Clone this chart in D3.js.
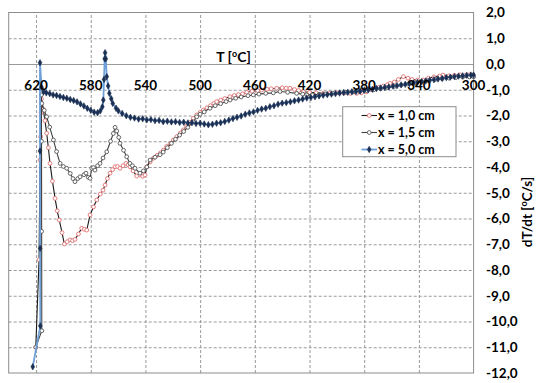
<!DOCTYPE html>
<html>
<head>
<meta charset="utf-8">
<script src="https://cdn.jsdelivr.net/npm/d3@7"></script>
<style>
  html, body { margin: 0; padding: 0; background: #fff; }
  svg { display: block; }
  text { font-family: Lato, "Open Sans", sans-serif; font-weight: bold; fill: #000; }
</style>
</head>
<body>
<svg id="chart" width="546" height="383"></svg>
<script>
// ---------------- data ----------------
const tempTicks = [620, 580, 540, 500, 460, 420, 380, 340, 300];
const rateTicks = [2, 1, 0, -1, -2, -3, -4, -5, -6, -7, -8, -9, -10, -11, -12];
const seriesNames = ["x = 1,0 cm", "x = 1,5 cm", "x = 5,0 cm"];

// x = 1,0 cm
const temp1 = [620.2,617.8,617.1,616.6,616.3,616.0,614.7,613.5,612.2,611.0,609.8,608.0,606.1,604.5,603.0,601.0,599.3,597.2,595.1,593.3,591.5,589.0,586.6,584.7,582.9,580.5,578.0,575.6,573.0,571.0,569.5,567.8,565.9,564.0,562.2,560.4,558.6,556.4,554.2,552.7,551.3,549.0,546.4,544.0,542.0,540.3,539.0,536.5,534.2,531.5,529.0,526.9,524.5,522.0,519.6,517.0,514.5,512.3,510.0,507.5,505.0,502.5,500.0,497.7,495.0,492.5,490.0,487.9,485,482,478.2,475,472,469,465.9,462,458,455,451,448,444,440,437,434.3,431,428,424.5,420,415,410,405,400,395,390,385.5,382,378.2,375,372,369,366,363,361.1,358,355,351.4,348,345,341,337,333,329,325,322.4,318,314,310,306,303,300.4];
const rate1 = [-11.0,-7.6,-3.73,-2.82,-1.9,-1.35,-1.76,-2.2,-2.69,-3.25,-3.86,-4.55,-5.22,-5.70,-6.06,-6.55,-6.99,-6.90,-6.83,-6.86,-6.81,-6.60,-6.38,-6.42,-6.45,-5.86,-5.55,-5.28,-5.05,-4.90,-4.70,-4.45,-4.24,-4.10,-3.99,-3.98,-4.05,-3.95,-3.86,-3.92,-3.99,-4.15,-4.35,-4.31,-4.36,-4.31,-3.99,-3.80,-3.66,-3.55,-3.45,-3.34,-3.20,-3.09,-2.95,-2.82,-2.68,-2.56,-2.42,-2.27,-2.11,-1.98,-1.88,-1.79,-1.70,-1.62,-1.53,-1.46,-1.40,-1.34,-1.27,-1.22,-1.19,-1.16,-1.10,-1.06,-1.03,-1.01,-0.98,-0.96,-0.94,-0.92,-0.94,-0.94,-0.99,-1.03,-1.08,-1.10,-1.12,-1.14,-1.13,-1.12,-1.13,-1.14,-1.14,-1.12,-1.08,-1.00,-0.94,-0.90,-0.86,-0.80,-0.75,-0.70,-0.60,-0.49,-0.55,-0.60,-0.62,-0.62,-0.55,-0.50,-0.47,-0.43,-0.46,-0.44,-0.42,-0.44,-0.42,-0.43];

// x = 1,5 cm
const temp2 = [620.2,615.8,615.9,616.0,616.1,615.8,614.0,612.2,610.0,607.3,605.0,602.4,600.0,597.6,595.0,593.0,591.5,589.5,587.8,585.0,583.5,581.8,580.5,579.3,578.0,576.9,575.0,573.2,571.0,568.3,565.5,563.5,562.2,561.0,559.5,558.6,556.0,553.7,551.3,549.5,547.6,544.0,541.5,539.0,536.6,533.0,529.3,527,524,521,518,515,512,509,505,502.5,500,497,492.8,489,485,481,478.1,474,470,465,461.1,457,452,446.5,441.6,436,429.4,425,422,418,413,408,403,398,393,388,383,378,373,368,363,358,353,348,343,338,333,328,323,318,313,308,303,300];
const rate2 = [-11.0,-10.36,-6.5,-3.0,-1.2,-1.53,-1.80,-2.05,-2.45,-2.95,-3.40,-3.86,-3.98,-4.05,-4.25,-4.45,-4.57,-4.45,-4.38,-4.30,-4.24,-4.40,-4.44,-4.05,-4.02,-4.12,-3.95,-3.86,-3.65,-3.41,-3.00,-2.70,-2.46,-2.60,-2.85,-3.08,-3.35,-3.60,-3.86,-3.95,-4.05,-4.24,-4.15,-4.00,-3.73,-3.62,-3.52,-3.42,-3.25,-3.08,-2.92,-2.76,-2.62,-2.46,-2.25,-2.05,-1.95,-1.86,-1.72,-1.62,-1.54,-1.46,-1.40,-1.33,-1.28,-1.23,-1.20,-1.17,-1.14,-1.12,-1.07,-1.10,-1.14,-1.17,-1.20,-1.20,-1.18,-1.16,-1.14,-1.12,-1.10,-1.08,-1.06,-1.03,-1.00,-0.96,-0.92,-0.87,-0.82,-0.78,-0.73,-0.68,-0.64,-0.60,-0.57,-0.55,-0.53,-0.51,-0.50,-0.50];

// x = 5,0 cm
const temp3 = [622.4,616.9,617.0,617.1,617.1,616.0,614.5,612.5,610.0,607.5,605.0,602.5,600.0,597.5,595.0,592.5,590.0,587.5,585.0,582.5,580.0,577.5,575.0,573.0,571.5,570.8,570.3,569.8,569.5,569.0,568.3,567.3,566.4,565.0,563.9,561.5,559.8,557,554,551,548,545,542,539,536,533,530,527,524,521,518,515,512,509,506,503,500,497,494,491,488,485,482,479,476,473,470,467,464,461,458,455,452,449,446,443,440,437,434,431,428,425,422,419,416,413,410,407,404,401,398,395,392,389,386,383,380,377,374,371,368,365,362,359,356,353,350,347,344,341,338,335,332,329,326,323,320,317,314,311,308,305,302,300];
const rate3 = [-11.76,-10.17,-7.16,-3.38,0.05,-0.90,-1.08,-1.12,-1.15,-1.20,-1.22,-1.26,-1.30,-1.33,-1.38,-1.42,-1.47,-1.55,-1.63,-1.72,-1.80,-1.87,-1.89,-1.82,-1.66,-1.40,-0.60,0.20,0.44,0.20,-0.49,-0.85,-1.14,-1.35,-1.53,-1.72,-1.82,-1.92,-2.01,-2.07,-2.10,-2.14,-2.13,-2.17,-2.16,-2.20,-2.19,-2.24,-2.22,-2.25,-2.24,-2.27,-2.26,-2.29,-2.28,-2.31,-2.30,-2.33,-2.36,-2.34,-2.30,-2.28,-2.23,-2.18,-2.12,-2.07,-2.02,-1.95,-1.90,-1.86,-1.80,-1.75,-1.72,-1.66,-1.62,-1.56,-1.52,-1.50,-1.47,-1.43,-1.40,-1.36,-1.32,-1.30,-1.27,-1.24,-1.21,-1.19,-1.17,-1.15,-1.13,-1.11,-1.10,-1.08,-1.07,-1.05,-1.02,-1.00,-0.98,-0.95,-0.93,-0.91,-0.89,-0.86,-0.84,-0.81,-0.79,-0.76,-0.74,-0.71,-0.69,-0.66,-0.63,-0.61,-0.58,-0.56,-0.53,-0.51,-0.49,-0.47,-0.46,-0.44,-0.43,-0.43];

// ---------------- chart ----------------
const svg = d3.select("#chart");
const plot = { left: 8.7, right: 473.6, top: 12.5, bottom: 373 };
const x = d3.scaleLinear().domain([640, 300]).range([plot.left, plot.right]);
const y = d3.scaleLinear().domain([2, -12]).range([plot.top, plot.bottom]);
const fmt = v => (v < 0 ? "-" : "") + Math.abs(v).toFixed(1).replace(".", ",");

// horizontal grid
const gy = svg.append("g")
  .attr("transform", `translate(${plot.left},0)`)
  .call(d3.axisLeft(y).tickValues(rateTicks.filter(v => v < 2 && v > -12))
    .tickSize(-(plot.right - plot.left)).tickFormat(""));
gy.select(".domain").remove();
gy.selectAll(".tick line")
  .attr("stroke", "#9a9a9a").attr("stroke-width", 1)
  .attr("stroke-dasharray", d => d === 0 ? null : "3,2");

// vertical grid
const gx = svg.append("g")
  .attr("transform", `translate(0,${plot.bottom})`)
  .call(d3.axisBottom(x).tickValues(tempTicks.filter(t => t !== 300))
    .tickSize(-(plot.bottom - plot.top)).tickFormat(""));
gx.select(".domain").remove();
gx.selectAll(".tick line")
  .attr("stroke", "#9a9a9a").attr("stroke-width", 1).attr("stroke-dasharray", "3,2");

// border
svg.append("rect")
  .attr("x", plot.left).attr("y", plot.top)
  .attr("width", plot.right - plot.left).attr("height", plot.bottom - plot.top)
  .attr("fill", "none").attr("stroke", "#8c8c8c").attr("stroke-width", 1);

// series
const series = [
  { name: seriesNames[0], t: temp1, r: rate1, line: "#1a1a1a", lw: 1.1, marker: "circle", mstroke: "#e07070", mfill: "#fff" },
  { name: seriesNames[1], t: temp2, r: rate2, line: "#404040", lw: 1.1, marker: "circle", mstroke: "#555", mfill: "#fff" },
  { name: seriesNames[2], t: temp3, r: rate3, line: "#6d9fd9", lw: 1.8, marker: "diamond", mstroke: "#1b2f52", mfill: "#1b2f52" }
];
const lineGen = d3.line().x(d => x(d[0])).y(d => y(d[1]));
const diamond = d3.symbol().type(d3.symbolDiamond).size(12);

series.forEach(s => {
  const pts = s.t.map((t, i) => [t, s.r[i]]);
  const g = svg.append("g");
  g.append("path").datum(pts).attr("d", lineGen)
    .attr("fill", "none").attr("stroke", s.line).attr("stroke-width", s.lw);
  if (s.marker === "circle") {
    g.selectAll("circle").data(pts).join("circle")
      .attr("cx", d => x(d[0])).attr("cy", d => y(d[1])).attr("r", 1.9)
      .attr("fill", s.mfill).attr("stroke", s.mstroke).attr("stroke-width", 0.9);
  } else {
    g.selectAll("path.m").data(pts).join("path").attr("class", "m")
      .attr("d", diamond)
      .attr("transform", d => `translate(${x(d[0])},${y(d[1])})`)
      .attr("fill", s.mfill).attr("stroke", s.mstroke).attr("stroke-width", 0.6);
  }
});

// x tick labels (drawn near y = -1)
svg.append("g").selectAll("text").data(tempTicks).join("text")
  .attr("x", d => x(d)).attr("y", 90)
  .attr("text-anchor", "middle").attr("font-size", 13.5)
  .text(d => d);

// y tick labels on the right
svg.append("g").selectAll("text").data(rateTicks).join("text")
  .attr("x", 486).attr("y", d => y(d) + 4.8)
  .attr("font-size", 13.5)
  .text(d => fmt(d));

// axis titles
const tx = svg.append("text").attr("x", 233.5).attr("y", 62)
  .attr("text-anchor", "middle").attr("font-size", 14);
tx.append("tspan").text("T [");
tx.append("tspan").attr("font-size", 9).attr("dy", -5).text("o");
tx.append("tspan").attr("dy", 5).text("C]");

const ty = svg.append("text").attr("transform", "translate(532,212) rotate(-90)")
  .attr("text-anchor", "middle").attr("font-size", 13.5);
ty.append("tspan").text("dT/dt [");
ty.append("tspan").attr("font-size", 9).attr("dy", -5).text("o");
ty.append("tspan").attr("dy", 5).text("C/s]");

// legend
const lg = svg.append("g");
lg.append("rect").attr("x", 342.7).attr("y", 106.7).attr("width", 113.3).attr("height", 50)
  .attr("fill", "#fff").attr("stroke", "#8c8c8c").attr("stroke-width", 1);
series.forEach((s, i) => {
  const cy = 115.5 + i * 17;
  lg.append("line").attr("x1", 361.5).attr("x2", 377).attr("y1", cy).attr("y2", cy)
    .attr("stroke", s.line).attr("stroke-width", s.lw);
  if (s.marker === "circle") {
    lg.append("circle").attr("cx", 369.2).attr("cy", cy).attr("r", 1.9)
      .attr("fill", s.mfill).attr("stroke", s.mstroke).attr("stroke-width", 0.9);
  } else {
    lg.append("path").attr("d", diamond).attr("transform", `translate(369.2,${cy})`)
      .attr("fill", s.mfill).attr("stroke", s.mstroke).attr("stroke-width", 0.6);
  }
  lg.append("text").attr("x", 378).attr("y", cy + 4.3).attr("font-size", 12.5).text(s.name);
});
</script>
</body>
</html>
